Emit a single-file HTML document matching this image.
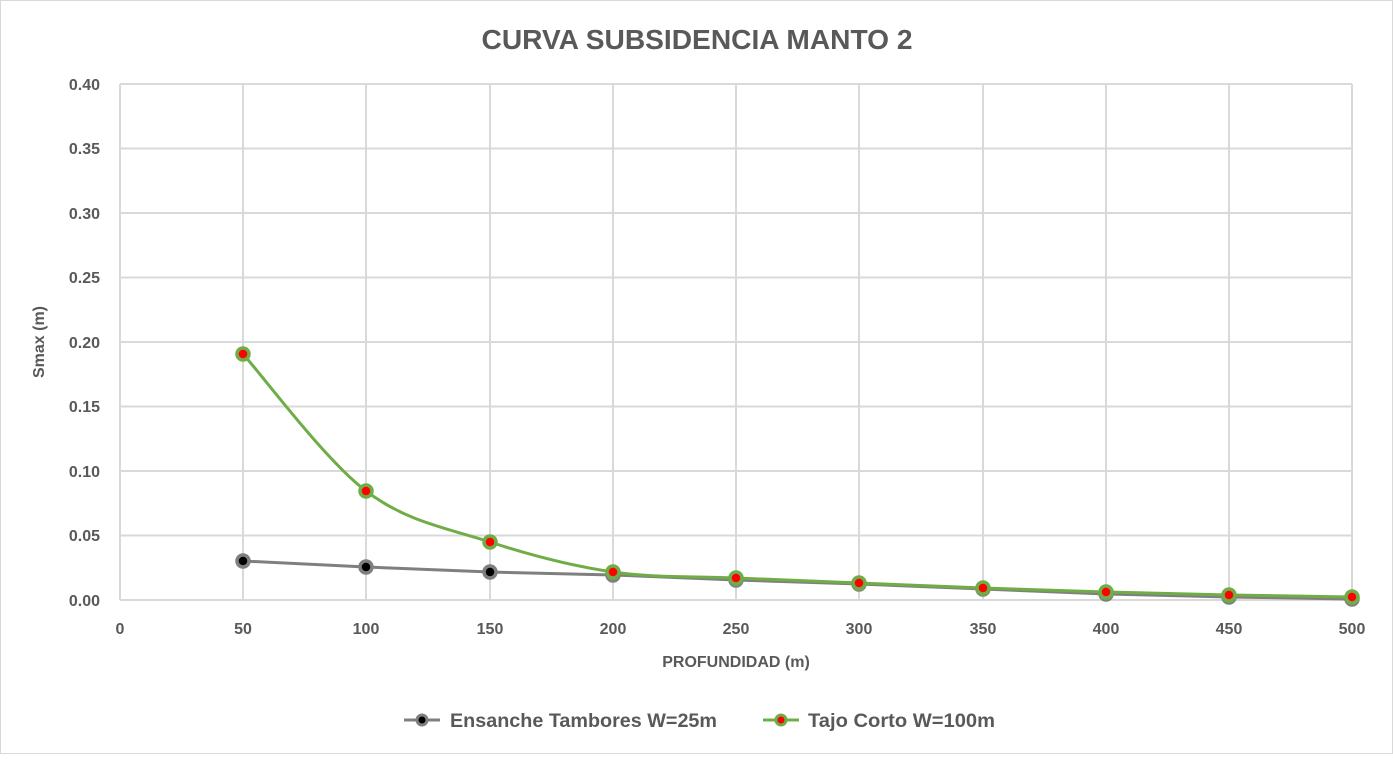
<!DOCTYPE html>
<html><head><meta charset="utf-8"><style>
body{margin:0;background:#fff}
svg text{font-family:"Liberation Sans",sans-serif;fill:#595959;font-weight:bold}
</style></head><body>
<svg width="1393" height="754" viewBox="0 0 1393 754" xmlns="http://www.w3.org/2000/svg">
<rect x="0.5" y="0.5" width="1392" height="753" fill="#fff" stroke="#d9d9d9"/>
<text x="697" y="49" font-size="28" text-anchor="middle" textLength="431" lengthAdjust="spacingAndGlyphs">CURVA SUBSIDENCIA MANTO 2</text>
<g stroke="#d9d9d9" stroke-width="2">
<line x1="120" y1="84" x2="1352" y2="84"/><line x1="120" y1="148.5" x2="1352" y2="148.5"/>
<line x1="120" y1="213" x2="1352" y2="213"/><line x1="120" y1="277.5" x2="1352" y2="277.5"/>
<line x1="120" y1="342" x2="1352" y2="342"/><line x1="120" y1="406.5" x2="1352" y2="406.5"/>
<line x1="120" y1="471" x2="1352" y2="471"/><line x1="120" y1="535.5" x2="1352" y2="535.5"/>
<line x1="120" y1="600" x2="1352" y2="600"/>
<line x1="120" y1="84" x2="120" y2="600"/><line x1="243" y1="84" x2="243" y2="600"/>
<line x1="366" y1="84" x2="366" y2="600"/><line x1="490" y1="84" x2="490" y2="600"/>
<line x1="613" y1="84" x2="613" y2="600"/><line x1="736" y1="84" x2="736" y2="600"/>
<line x1="859" y1="84" x2="859" y2="600"/><line x1="983" y1="84" x2="983" y2="600"/>
<line x1="1106" y1="84" x2="1106" y2="600"/><line x1="1229" y1="84" x2="1229" y2="600"/>
<line x1="1352" y1="84" x2="1352" y2="600"/>
</g>
<g font-size="16" text-anchor="end">
<text x="100" y="90">0.40</text><text x="100" y="154">0.35</text><text x="100" y="219">0.30</text>
<text x="100" y="283">0.25</text><text x="100" y="348">0.20</text><text x="100" y="412">0.15</text>
<text x="100" y="477">0.10</text><text x="100" y="541">0.05</text><text x="100" y="606">0.00</text>
</g>
<g font-size="16" text-anchor="middle">
<text x="120" y="634">0</text><text x="243" y="634">50</text><text x="366" y="634">100</text>
<text x="490" y="634">150</text><text x="613" y="634">200</text><text x="736" y="634">250</text>
<text x="859" y="634">300</text><text x="983" y="634">350</text><text x="1106" y="634">400</text>
<text x="1229" y="634">450</text><text x="1352" y="634">500</text>
</g>
<text x="736" y="667" font-size="16" text-anchor="middle">PROFUNDIDAD (m)</text>
<text transform="translate(44,342) rotate(-90)" font-size="16" text-anchor="middle">Smax (m)</text>
<polyline fill="none" stroke="#7f7f7f" stroke-width="3" points="243,561 366,567 490,572 613,575 736,580 859,584 983,589 1106,594 1229,597 1352,599"/>
<path fill="none" stroke="#70ad47" stroke-width="3" d="M243,354 C263.5,376.8 324.8,459.7 366,491 C407.2,522.3 448.8,528.5 490,542 C531.2,555.5 572,566 613,572 C654,578 695,576.2 736,578 L859,583 L983,588 L1106,592 L1229,595 L1352,597"/>
<g fill="#000" stroke="#7f7f7f" stroke-width="3.5">
<circle cx="243" cy="561" r="6"/><circle cx="366" cy="567" r="6"/><circle cx="490" cy="572" r="6"/>
<circle cx="613" cy="575" r="6"/><circle cx="736" cy="580" r="6"/><circle cx="859" cy="584" r="6"/>
<circle cx="983" cy="589" r="6"/><circle cx="1106" cy="594" r="6"/><circle cx="1229" cy="597" r="6"/>
<circle cx="1352" cy="599" r="6"/>
</g>
<g fill="#ff0000" stroke="#70ad47" stroke-width="3.5">
<circle cx="243" cy="354" r="6"/><circle cx="366" cy="491" r="6"/><circle cx="490" cy="542" r="6"/>
<circle cx="613" cy="572" r="6"/><circle cx="736" cy="578" r="6"/><circle cx="859" cy="583" r="6"/>
<circle cx="983" cy="588" r="6"/><circle cx="1106" cy="592" r="6"/><circle cx="1229" cy="595" r="6"/>
<circle cx="1352" cy="597" r="6"/>
</g>
<line x1="404" y1="720" x2="440" y2="720" stroke="#7f7f7f" stroke-width="3"/>
<circle cx="422" cy="720" r="5" fill="#000" stroke="#7f7f7f" stroke-width="3"/>
<text x="450" y="727" font-size="19" textLength="267" lengthAdjust="spacingAndGlyphs">Ensanche Tambores W=25m</text>
<line x1="763" y1="720" x2="799" y2="720" stroke="#70ad47" stroke-width="3"/>
<circle cx="781" cy="720" r="5" fill="#ff0000" stroke="#70ad47" stroke-width="3"/>
<text x="808" y="727" font-size="19" textLength="187" lengthAdjust="spacingAndGlyphs">Tajo Corto W=100m</text>
</svg>
</body></html>
